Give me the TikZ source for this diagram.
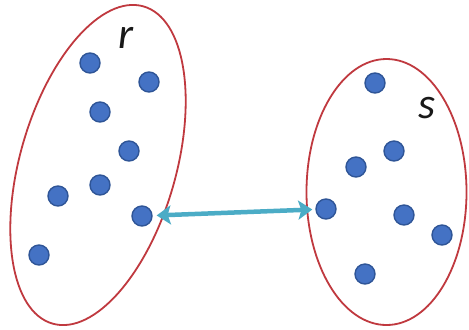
\documentclass[tikz,border=0pt]{standalone}
\usepackage{fontspec}
\setmainfont{Carlito}
\usetikzlibrary{arrows.meta}
\definecolor{dotfill}{HTML}{4472C4}
\definecolor{dotline}{HTML}{2F5597}
\definecolor{setred}{HTML}{C0393F}
\definecolor{teal}{HTML}{4BACC6}
\tikzset{
  dot/.style={circle, fill=dotfill, draw=dotline, line width=1.4bp, minimum size=20bp, inner sep=0pt},
  setline/.style={draw=setred, line width=1.8bp},
  lbl/.style={font=\itshape\fontsize{44}{44}\selectfont, text=black!90, inner sep=0pt},
  link/.style={draw=teal, line width=4.5bp, {Stealth[length=14bp,width=19bp,inset=3bp]}-{Stealth[length=14bp,width=19bp,inset=3bp]}}
}
\begin{document}
\begin{tikzpicture}[x=1bp,y=-1bp]
\useasboundingbox (0,0) rectangle (469,329);
\fill[white] (0,0) rectangle (469,329);
% sets
\draw[setline, rotate around={-16:(98,165)}] (98,165) ellipse [x radius=78, y radius=165];
\draw[setline] (386.5,192) ellipse [x radius=80, y radius=133];
% labels
\node[lbl] (r) at (126,38) {r};
\node[lbl] (s) at (427,108) {s};
% left dots
\node[dot] (l1) at (90,63) {};
\node[dot] (l2) at (149,82) {};
\node[dot] (l3) at (100,112) {};
\node[dot] (l4) at (129,151) {};
\node[dot] (l5) at (100,185) {};
\node[dot] (l6) at (58,196) {};
\node[dot] (l7) at (142,216) {};
\node[dot] (l8) at (39,255) {};
% right dots
\node[dot] (r1) at (375,83) {};
\node[dot] (r2) at (394,151) {};
\node[dot] (r3) at (356,167) {};
\node[dot] (r4) at (326,209) {};
\node[dot] (r5) at (404,215) {};
\node[dot] (r6) at (442,235) {};
\node[dot] (r7) at (365,274) {};
% connector
\draw[link, shorten <=4bp, shorten >=3bp] (l7) -- (r4);
\end{tikzpicture}
\end{document}
